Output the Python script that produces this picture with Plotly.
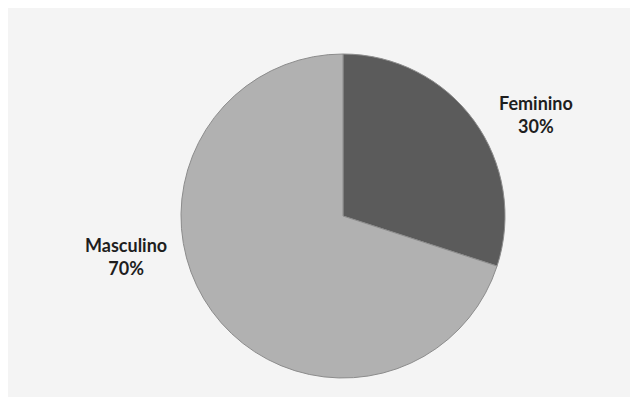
import plotly.graph_objects as go

labels = ["Feminino", "Masculino"]
values = [30, 70]
colors = ["#5b5b5b", "#b1b1b1"]

# Page body has an 8px margin; figure covers the light panel only.
OFF = 8
W, H = 622, 389

fig = go.Figure()
fig.add_trace(go.Pie(
    labels=labels, values=values, sort=False, direction="clockwise", rotation=0,
    marker=dict(colors=colors, line=dict(color="#8c8c8c", width=1)),
    textinfo="none", hoverinfo="label+percent", showlegend=False,
    domain=dict(x=[(181 - OFF) / W, (505 - OFF) / W],
                y=[1 - (378 - OFF) / H, 1 - (54 - OFF) / H]),
))

total = sum(values)
label_pos = [(536, 114), (126, 256)]
for lab, val, (px, py) in zip(labels, values, label_pos):
    fig.add_annotation(
        x=(px - OFF) / W, y=1 - (py - OFF) / H, xref="paper", yref="paper",
        xanchor="center", yanchor="middle",
        text=f"<b>{lab}<br>{round(100 * val / total)}%</b>",
        showarrow=False, align="center",
        font=dict(family="Lato, Liberation Sans, sans-serif", size=18, color="#1e1e1e"),
    )

fig.update_layout(width=W, height=H, margin=dict(l=0, r=0, t=0, b=0),
                  paper_bgcolor="#f4f4f4", plot_bgcolor="#f4f4f4")
fig.write_html("out.html")
